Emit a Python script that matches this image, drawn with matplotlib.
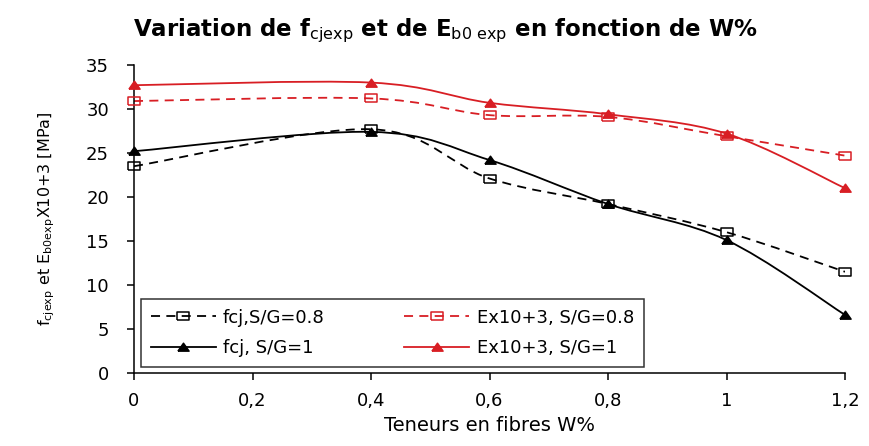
import matplotlib
matplotlib.use("Agg")
import matplotlib.pyplot as plt
from matplotlib.path import Path
from matplotlib.patches import PathPatch
from matplotlib.lines import Line2D
import numpy as np

plt.rcParams['font.family'] = ['DejaVu Sans']
plt.rcParams['mathtext.fontset'] = 'dejavusans'

# Fibre content W%
w = [0, 0.4, 0.6, 0.8, 1.0, 1.2]
# Compressive strength fcj [MPa]
fcj_sg08 = [23.5, 27.7, 22.1, 19.2, 16.0, 11.5]
fcj_sg1 = [25.2, 27.4, 24.2, 19.2, 15.1, 6.6]
# Modulus E x10+3 [MPa]
e_sg08 = [30.9, 31.2, 29.3, 29.1, 26.9, 24.7]
e_sg1 = [32.7, 33.0, 30.7, 29.4, 27.2, 21.0]

x_ticks = [0, 0.2, 0.4, 0.6, 0.8, 1.0, 1.2]
x_ticklabels = ['0', '0,2', '0,4', '0,6', '0,8', '1', '1,2']
y_ticks = [0, 5, 10, 15, 20, 25, 30, 35]

RED = '#d81e24'
DASH = (0, (5, 3.5))

# slightly wide marker shapes
SQUARE = [(-1.25, -1), (1.25, -1), (1.25, 1), (-1.25, 1), (-1.25, -1)]
TRIANGLE = [(-1.3, -0.85), (1.3, -0.85), (0, 1.0), (-1.3, -0.85)]


def smooth_path(xs, ys):
    """Bezier path through the points, Catmull-Rom style smoothing."""
    pts = np.column_stack([xs, ys]).astype(float)
    n = len(pts)
    verts = [pts[0]]
    codes = [Path.MOVETO]
    for i in range(n - 1):
        p0 = pts[i - 1] if i > 0 else pts[i]
        p1 = pts[i]
        p2 = pts[i + 1]
        p3 = pts[i + 2] if i + 2 < n else pts[i + 1]
        c1 = p1 + (p2 - p0) / 6.0
        c2 = p2 - (p3 - p1) / 6.0
        verts += [c1, c2, p2]
        codes += [Path.CURVE4] * 3
    return Path(verts, codes)


fig = plt.figure(figsize=(8.69, 4.46), dpi=100)
ax = fig.add_axes([0.1542, 0.1637, 0.9724 - 0.1542, 0.8543 - 0.1637])

series = [
    (fcj_sg08, 'black', DASH, SQUARE, 'none', 'fcj,S/G=0.8'),
    (fcj_sg1, 'black', '-', TRIANGLE, 'black', 'fcj, S/G=1'),
    (e_sg08, RED, DASH, SQUARE, 'none', 'Ex10+3, S/G=0.8'),
    (e_sg1, RED, '-', TRIANGLE, RED, 'Ex10+3, S/G=1'),
]

handles = []
for ys, col, ls, mk, mfc, lab in series:
    patch = PathPatch(smooth_path(w, ys), facecolor='none', edgecolor=col,
                      linewidth=1.3, linestyle=ls, transform=ax.transData,
                      zorder=2)
    ax.add_patch(patch)
    ax.plot(w, ys, linestyle='none', marker=mk, markersize=8,
            markerfacecolor=mfc, markeredgecolor=col, markeredgewidth=1.1,
            zorder=3, clip_on=False)
    handles.append(Line2D([], [], color=col, linestyle=ls, linewidth=1.3,
                          marker=mk, markersize=8, markerfacecolor=mfc,
                          markeredgecolor=col, markeredgewidth=1.1, label=lab))

ax.set_xlim(0, 1.2)
ax.set_ylim(0, 35)
ax.set_xticks(x_ticks)
ax.set_xticklabels(x_ticklabels)
ax.set_yticks(y_ticks)
ax.spines['top'].set_visible(False)
ax.spines['right'].set_visible(False)
for s in ('left', 'bottom'):
    ax.spines[s].set_linewidth(1.1)
ax.tick_params(axis='both', direction='out', length=5, width=1.1,
               labelsize=13, colors='black')
ax.tick_params(axis='y', pad=13)
ax.tick_params(axis='x', pad=9)

ax.set_xlabel('Teneurs en fibres W%', fontsize=14, labelpad=4)
ax.set_ylabel(r'$\mathrm{f_{cjexp}}$ et $\mathrm{E_{b0exp}}$X10+3 [MPa]',
              fontsize=11.5, labelpad=21)

fig.text(0.513, 0.930,
         r'Variation de $\mathbf{f}_{\mathrm{cjexp}}$ et de '
         r'$\mathbf{E}_{\mathrm{b0\ exp}}$ en fonction de W%',
         fontsize=16.5, fontweight='bold', ha='center', va='center')

leg = ax.legend(handles=handles, ncol=2, loc='lower left',
                bbox_to_anchor=(0.0098, 0.019), borderaxespad=0,
                fontsize=13, handlelength=3.6, columnspacing=4.4,
                labelspacing=0.7, handletextpad=0.4, borderpad=0.55,
                fancybox=False, frameon=True)
leg.get_frame().set_edgecolor('black')
leg.get_frame().set_linewidth(1.1)

fig.savefig('out.png', dpi=100, facecolor='white')
